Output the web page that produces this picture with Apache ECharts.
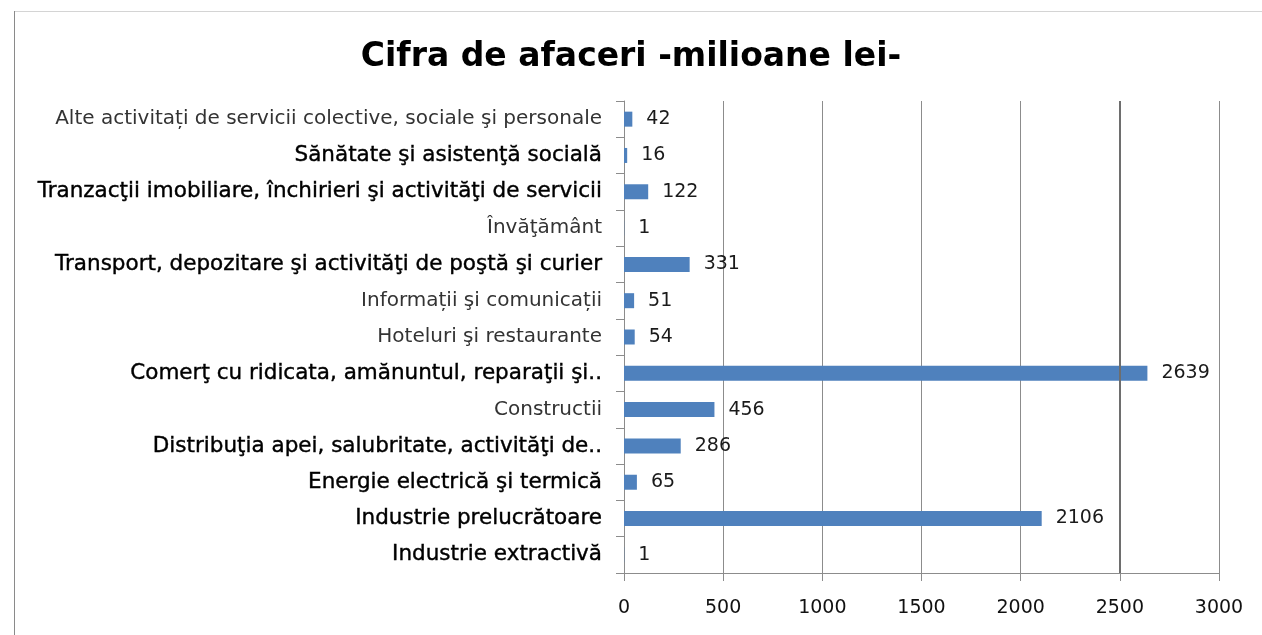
<!DOCTYPE html>
<html><head><meta charset="utf-8">
<script src="https://cdn.jsdelivr.net/npm/echarts@6/dist/echarts.min.js"></script>
<style>html,body{margin:0;padding:0;background:#fff}#c{width:1262px;height:635px}</style>
</head><body><div id="c"></div>
<script>
const categories = [
  "Industrie extractivă",
  "Industrie prelucrătoare",
  "Energie electrică şi termică",
  "Distribuţia apei, salubritate, activităţi de..",
  "Constructii",
  "Comerţ cu ridicata, amănuntul, reparaţii şi..",
  "Hoteluri şi restaurante",
  "Informații şi comunicații",
  "Transport, depozitare şi activităţi de poştă şi curier",
  "Învăţământ",
  "Tranzacţii imobiliare, închirieri şi activităţi de servicii",
  "Sănătate şi asistenţă socială",
  "Alte activitați de servicii colective, sociale şi personale"
];
const values = [1, 2106, 65, 286, 456, 2639, 54, 51, 331, 1, 122, 16, 42];
const lightLabels = ["Constructii", "Hoteluri şi restaurante", "Informații şi comunicații", "Învăţământ", "Alte activitați de servicii colective, sociale şi personale"];
const xTicks = [0, 500, 1000, 1500, 2000, 2500, 3000];

const chart = echarts.init(document.getElementById('c'), null, {renderer: 'canvas'});
chart.setOption({
  animation: false,
  backgroundColor: '#fff',
  title: {
    text: 'Cifra de afaceri -milioane lei-',
    left: 'center', top: 36,
    textStyle: {fontFamily: 'DejaVu Sans', fontWeight: 'bold', fontSize: 33, color: '#000'}
  },
  graphic: [
    {type: 'line', shape: {x1: 14, y1: 11.5, x2: 1262, y2: 11.5}, style: {stroke: '#d4d4d4', lineWidth: 1}},
    {type: 'line', shape: {x1: 14.5, y1: 11, x2: 14.5, y2: 635}, style: {stroke: '#8a8a8a', lineWidth: 1}}
  ],
  grid: {left: 624, right: 43, top: 101, bottom: 62, containLabel: false},
  xAxis: {
    type: 'value', min: xTicks[0], max: xTicks[xTicks.length - 1], interval: 500,
    axisLine: {show: true, lineStyle: {color: '#8c8c8c'}},
    axisTick: {show: true, length: 8, lineStyle: {color: '#8c8c8c'}},
    axisLabel: {margin: 26, fontFamily: 'DejaVu Sans', fontSize: 19, color: '#111', formatter: v => String(v)},
    splitLine: {show: true, lineStyle: {color: '#8c8c8c', width: 1}}
  },
  yAxis: {
    type: 'category', data: categories,
    axisLine: {show: true, lineStyle: {color: '#8c8c8c'}},
    axisTick: {show: true, length: 8, alignWithLabel: false, lineStyle: {color: '#8c8c8c'}},
    axisLabel: {
      margin: 22, fontFamily: 'DejaVu Sans', fontSize: 20,
      formatter: v => lightLabels.includes(v) ? '{l|' + v + '}' : '{d|' + v + '}',
      rich: {
        l: {fontFamily: 'DejaVu Sans', fontSize: 20, color: '#333'},
        d: {fontFamily: 'DejaVu Sans', fontSize: 21.5, color: '#000', textBorderColor: '#000', textBorderWidth: 0.4}
      }
    }
  },
  series: [{
    type: 'bar', data: values, barWidth: 15,
    itemStyle: {color: '#4F81BD'},
    label: {show: true, position: 'right', distance: 14, fontFamily: 'DejaVu Sans', fontSize: 19, color: '#1a1a1a'},
    markLine: {
      silent: true, symbol: 'none', label: {show: false},
      lineStyle: {color: '#6e6e6e', width: 2, type: 'solid'},
      data: [{xAxis: 2500}]
    }
  }]
});
</script></body></html>
